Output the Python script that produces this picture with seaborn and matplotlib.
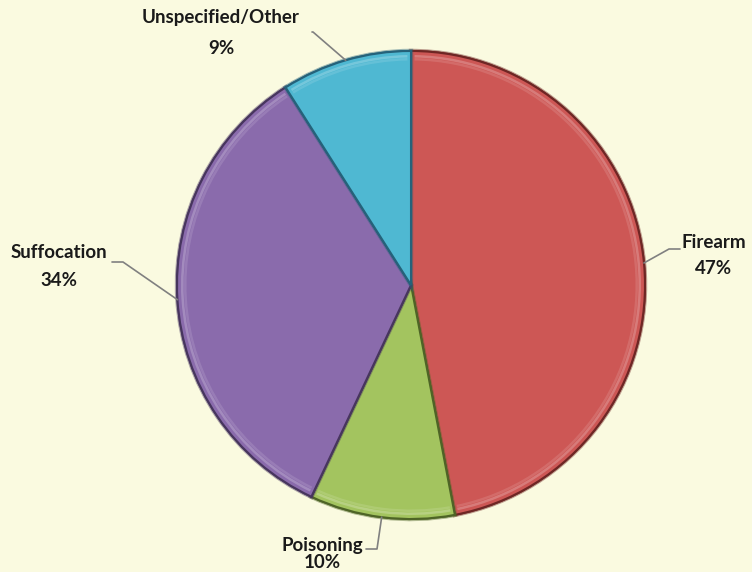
import numpy as np
import matplotlib
matplotlib.use("Agg")
import matplotlib.pyplot as plt
import matplotlib.patheffects as pe
from matplotlib.patches import Wedge
import seaborn as sns

categories = ["Firearm", "Poisoning", "Suffocation", "Unspecified/Other"]
values = [47, 10, 34, 9]
pct_labels = ["47%", "10%", "34%", "9%"]
colors = ["#CD5755", "#A3C45F", "#8A6BAC", "#4FB8D2"]
edge_colors = ["#6E2624", "#4E6426", "#47355E", "#25627A"]

sns.set_theme(style="white")
plt.rcParams["font.family"] = ["Lato", "DejaVu Sans"]

BG = "#FAFAE0"
fig = plt.figure(figsize=(7.52, 5.72), dpi=100, facecolor=BG)
ax = fig.add_axes([0, 0, 1, 1])
ax.set_facecolor(BG)

cx, cy, r = 411, 287, 234
wedges, _ = ax.pie(values, colors=colors, startangle=90, counterclock=False,
                   center=(cx, cy), radius=r, frame=True,
                   wedgeprops=dict(linewidth=1.5))
ax.set_xlim(0, 752)
ax.set_ylim(0, 572)
ax.axis("off")

for w, ec, fc in zip(wedges, edge_colors, colors):
    w.set_edgecolor(ec)
    w.set_path_effects([pe.withStroke(linewidth=3.2, foreground=ec + "70"), pe.Normal()])
    # soft bevel highlight along the rim
    for k, a in [(4, 0.22), (7, 0.12)]:
        rim = Wedge((cx, cy), r - k, w.theta1 + 0.9, w.theta2 - 0.9, width=2.5,
                    facecolor="white", edgecolor="none", alpha=a)
        ax.add_patch(rim)

# label positions (pixel coords from top) and leader line knees
label_pos = [(714, 243), (322, 545), (59, 253), (221, 18)]
pct_offset = [26, 17, 27, 30]
knees = [[(680, 249), (669, 249)], [(366, 549), (377, 549)],
         [(112, 262), (123, 262)], [(312, 32), (313, 32)]]

for w, cat, pct, (lx, ly), off, kn in zip(wedges, categories, pct_labels, label_pos, pct_offset, knees):
    mid = np.deg2rad((w.theta1 + w.theta2) / 2)
    ex, ey = cx + r * np.cos(mid), cy + r * np.sin(mid)
    pts = [(kx, 572 - ky) for kx, ky in kn] + [(ex, ey)]
    xs, ys = zip(*pts)
    ax.plot(xs, ys, color="#808080", lw=1.2, zorder=1)
    ax.text(lx, 572 - ly, cat, ha="center", va="center", fontsize=13.5,
            fontweight="bold", color="#1A1A1A")
    ax.text(lx, 572 - ly - off, pct, ha="center", va="center", fontsize=13.5,
            fontweight="bold", color="#1A1A1A")

fig.savefig("out.png", dpi=100, facecolor=BG)
